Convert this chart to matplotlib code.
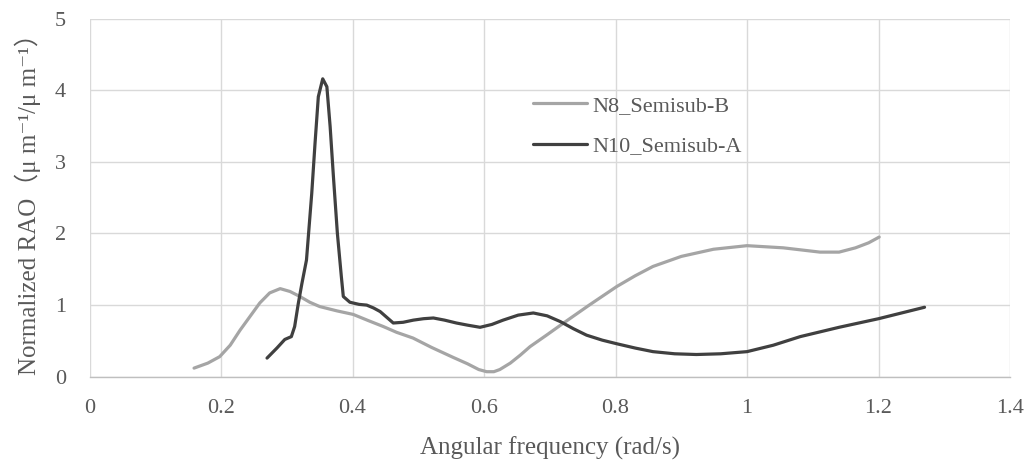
import matplotlib
matplotlib.use("Agg")
import matplotlib.pyplot as plt

# N8_Semisub-B response
n8_freq = [0.159, 0.180, 0.198, 0.214, 0.229, 0.244, 0.259, 0.274, 0.290, 0.305,
           0.320, 0.335, 0.350, 0.376, 0.401, 0.425, 0.447, 0.467, 0.492, 0.520,
           0.553, 0.575, 0.592, 0.604, 0.615, 0.624, 0.640, 0.655, 0.670, 0.695,
           0.721, 0.760, 0.802, 0.830, 0.857, 0.900, 0.949, 1.000, 1.055, 1.111,
           1.140, 1.165, 1.185, 1.201]
n8_rao = [0.12, 0.19, 0.28, 0.44, 0.65, 0.84, 1.03, 1.17, 1.23, 1.19,
          1.12, 1.04, 0.98, 0.92, 0.87, 0.78, 0.70, 0.62, 0.54, 0.41,
          0.27, 0.18, 0.10, 0.07, 0.07, 0.10, 0.19, 0.30, 0.42, 0.58,
          0.75, 1.00, 1.26, 1.41, 1.54, 1.68, 1.78, 1.83, 1.80, 1.74,
          1.74, 1.80, 1.87, 1.95]

# N10_Semisub-A response
n10_freq = [0.270, 0.285, 0.297, 0.307, 0.312, 0.3175, 0.323, 0.330, 0.338, 0.343,
            0.348, 0.3547, 0.361, 0.366, 0.371, 0.377, 0.383, 0.386, 0.396, 0.410,
            0.4216, 0.432, 0.442, 0.452, 0.462, 0.477, 0.4925, 0.508, 0.523, 0.540,
            0.558, 0.575, 0.594, 0.612, 0.629, 0.652, 0.675, 0.696, 0.716, 0.736,
            0.756, 0.780, 0.802, 0.830, 0.857, 0.890, 0.923, 0.960, 1.000, 1.040,
            1.081, 1.140, 1.200, 1.270]
n10_rao = [0.26, 0.40, 0.52, 0.56, 0.70, 1.02, 1.30, 1.63, 2.56, 3.26,
           3.91, 4.16, 4.05, 3.49, 2.79, 2.00, 1.40, 1.12, 1.04, 1.01,
           1.00, 0.96, 0.91, 0.83, 0.75, 0.76, 0.79, 0.81, 0.82, 0.79,
           0.75, 0.72, 0.69, 0.73, 0.79, 0.86, 0.89, 0.85, 0.77, 0.67,
           0.58, 0.51, 0.46, 0.40, 0.35, 0.32, 0.31, 0.32, 0.35, 0.44,
           0.56, 0.69, 0.81, 0.97]

x_ticks = [0, 0.2, 0.4, 0.6, 0.8, 1.0, 1.2, 1.4]
x_tick_labels = ["0", "0.2", "0.4", "0.6", "0.8", "1", "1.2", "1.4"]
y_ticks = [0, 1, 2, 3, 4, 5]

serif = ["Liberation Serif", "DejaVu Serif", "Noto Sans CJK JP"]
text_color = "#595959"

fig = plt.figure(figsize=(10.30, 4.72), dpi=100)
ax = fig.add_axes([0.0869, 0.2019, 0.8937, 0.7585])

ax.plot(n8_freq, n8_rao, color="#A5A5A5", lw=2.3, solid_capstyle="round",
        solid_joinstyle="round", label="N8_Semisub-B")
ax.plot(n10_freq, n10_rao, color="#404040", lw=2.3, solid_capstyle="round",
        solid_joinstyle="round", label="N10_Semisub-A")

ax.set_xlim(0, 1.4)
ax.set_ylim(0, 5)
ax.set_xticks(x_ticks)
ax.set_xticklabels(x_tick_labels)
ax.set_yticks(y_ticks)
ax.grid(True, color="#D9D9D9", lw=1.0)
ax.set_axisbelow(True)
for side in ["top", "right", "left"]:
    ax.spines[side].set_visible(False)
ax.spines["bottom"].set_color("#BFBFBF")
ax.spines["bottom"].set_linewidth(1.0)

ax.tick_params(length=0, labelcolor=text_color, labelsize=16)
ax.tick_params(axis="x", pad=16)
ax.tick_params(axis="y", pad=17)
for lab in ax.get_xticklabels() + ax.get_yticklabels():
    lab.set_family(serif)

ax.set_xlabel("Angular frequency (rad/s)", family=serif, fontsize=18,
              color=text_color)
ax.xaxis.set_label_coords(0.5, -0.166)
ax.set_ylabel("Normalized RAO（μ m⁻¹/μ m⁻¹）", family=serif, fontsize=18,
              color=text_color)
ax.yaxis.set_label_coords(-0.053, 0.5)

leg = ax.legend(loc="center left", bbox_to_anchor=(0.5175, 0.733),
                bbox_transform=fig.transFigure, frameon=False,
                borderpad=0, borderaxespad=0, handlelength=2.43,
                handletextpad=0.22, labelspacing=0.9,
                prop={"family": serif, "size": 16})
for t in leg.get_texts():
    t.set_color(text_color)

fig.savefig("out.png", dpi=100)
